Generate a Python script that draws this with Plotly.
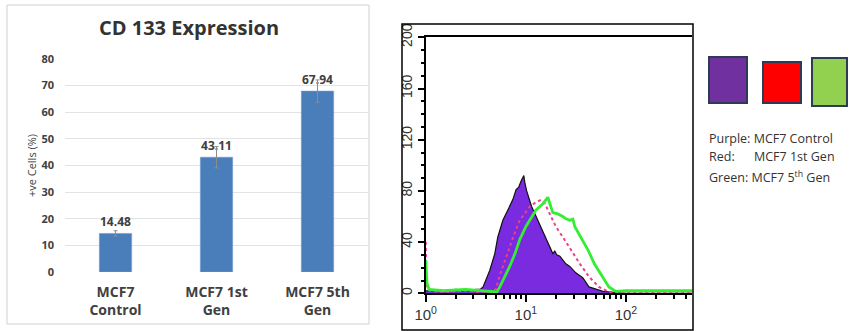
import plotly.graph_objects as go

# ---- Bar chart data ----
categories = ["MCF7<br>Control", "MCF7 1st<br>Gen", "MCF7 5th<br>Gen"]
positive_cells = [14.48, 43.11, 67.94]
errors = [1.0, 4.0, 4.2]
bar_labels = ["14.48", "43.11", "67.94"]

# ---- Flow cytometry histogram data (fluorescence, counts) ----
control_x = [1.0, 1.5, 2.0, 2.6, 3.2, 3.5, 3.74, 4.37, 4.9, 5.25, 5.9, 6.6, 7.4, 8.0, 8.5,
             9.0, 9.55, 9.8, 10.2, 11.4, 13.2, 15.8, 18.6, 19.5, 20.4, 21.9, 23.5, 25.1,
             27.5, 29.0, 31.6, 34.5, 37.2, 42.7, 50, 59, 70, 85, 100, 150, 250, 460]
control_y = [2, 2, 3, 2, 3, 3, 5, 18, 31, 44, 57, 65, 73, 81, 83,
             88, 92, 86, 80, 68, 57, 44, 31, 33, 30, 29, 26, 23,
             21, 19, 16, 14, 12, 5, 3, 1.5, 1, 0.5, 0, 0, 0, 0]

gen1_x = [1.0, 1.02, 1.1, 1.5, 2.5, 3.5, 4.5, 5.0, 5.5, 6.2, 6.9, 7.8, 8.7, 10, 11,
          12.6, 14.1, 15.5, 17.4, 20, 23.4, 28.2, 34.7, 42.7, 53.7, 67.6, 100, 200, 460]
gen1_y = [40, 6, 2, 1, 2, 1, 2, 3, 14, 26, 36, 48, 57, 64, 68,
          71, 73, 70, 62, 52, 44, 34, 23, 13, 5, 1, 1, 1, 1]

gen5_x = [1.0, 1.03, 1.08, 1.5, 2.5, 3.5, 4.4, 5.13, 5.5, 6.2, 6.9, 7.8, 8.7, 10, 11.4,
          12.6, 14.8, 16.6, 18.6, 20.9, 23.4, 25.5, 27.5, 29.5, 30.9, 35.5, 41.7, 48.4,
          58.9, 67.6, 79.4, 100, 150, 250, 460]
gen5_y = [26, 8, 3, 2, 3, 2, 1.5, 1, 5, 13, 21, 31, 42, 52, 60,
          65, 70, 75, 63, 62, 60, 58, 57, 58, 52, 44, 34, 23,
          13, 5, 1.5, 2, 2, 2, 2]

flow_ticks = [1, 10, 100]
flow_ticktext = ["10<sup>0</sup>", "10<sup>1</sup>", "10<sup>2</sup>"]
flow_minor = [2, 3, 4, 5, 6, 7, 8, 9, 20, 30, 40, 50, 60, 70, 80, 90, 200, 300, 400]

W, H = 851, 331
def px(x):
    return x / W
def py(y):
    return 1 - y / H

fig = go.Figure()

fig.add_trace(go.Bar(
    x=categories, y=positive_cells, width=0.32,
    marker=dict(color="#4a7ebb", line=dict(color="#6f9bd6", width=0.6)),
    error_y=dict(type="data", array=errors, color="#8c8c8c", thickness=1, width=2),
    text=bar_labels, textposition="outside", cliponaxis=False,
    textfont=dict(family="Open Sans", size=12, color="#404040", weight="bold"),
    xaxis="x", yaxis="y",
))

fig.add_trace(go.Scatter(
    x=control_x, y=control_y, mode="lines", fill="tozeroy",
    fillcolor="#7a2be0", line=dict(color="#111111", width=1.2),
    xaxis="x2", yaxis="y2",
))
fig.add_trace(go.Scatter(
    x=gen1_x, y=gen1_y, mode="lines",
    line=dict(color="#e8408a", width=2, dash="dot"),
    xaxis="x2", yaxis="y2",
))
fig.add_trace(go.Scatter(
    x=gen5_x, y=gen5_y, mode="lines",
    line=dict(color="#33ee33", width=2.8),
    xaxis="x2", yaxis="y2",
))

fig.update_layout(
    width=W, height=H,
    margin=dict(l=0, r=0, t=0, b=0, autoexpand=False),
    paper_bgcolor="white", plot_bgcolor="white",
    showlegend=False,
    xaxis=dict(
        domain=[px(65), px(368)], anchor="y", automargin=False,
        showgrid=False, showline=False, ticks="", zeroline=False,
        tickfont=dict(family="Open Sans", size=14, color="#404040", weight="bold"),
        ticklabelstandoff=10,
    ),
    yaxis=dict(
        domain=[py(272), py(59)], anchor="x", range=[0, 80], dtick=10, automargin=False,
        showgrid=True, gridcolor="#e3e3e3", gridwidth=1, zeroline=False, showline=False,
        tickfont=dict(family="Open Sans", size=11, color="#404040", weight="bold"),
        ticklabelstandoff=10,
        title=dict(text="+ve Cells (%)", standoff=2,
                   font=dict(family="Open Sans", size=11, color="#404040")),
    ),
    xaxis2=dict(
        type="log", domain=[px(425.7), px(692)], anchor="y2", range=[0, 2.66],
        automargin=False, showgrid=False, zeroline=False,
        showline=True, linecolor="black", linewidth=2, mirror=True,
        ticks="outside", ticklen=7, tickwidth=1.5, tickcolor="black",
        tickmode="array", tickvals=flow_ticks, ticktext=flow_ticktext,
        tickfont=dict(family="Liberation Sans", size=15, color="#333333"),
        minor=dict(tickvals=flow_minor, ticks="outside", ticklen=4,
                   tickwidth=1.5, tickcolor="black"),
    ),
    yaxis2=dict(
        domain=[py(293.3), py(37.3)], anchor="x2", range=[0, 200], automargin=False,
        showgrid=False, zeroline=False,
        showline=True, linecolor="black", linewidth=2,
        ticks="outside", ticklen=6, tickwidth=1.5, tickcolor="black",
        tick0=0, dtick=40, tickangle=-90,
        tickfont=dict(family="Liberation Sans", size=14, color="#333333"),
        minor=dict(tick0=0, dtick=10, ticks="outside", ticklen=3,
                   tickwidth=1.5, tickcolor="black"),
    ),
    shapes=[
        dict(type="rect", xref="paper", yref="paper",
             x0=px(7), x1=px(369), y0=py(324), y1=py(5),
             line=dict(color="#d0d0d0", width=1)),
        dict(type="rect", xref="paper", yref="paper",
             x0=px(402), x1=px(693), y0=py(330), y1=py(24),
             line=dict(color="black", width=1.5)),
        dict(type="rect", xref="paper", yref="paper",
             x0=px(709), x1=px(747), y0=py(103), y1=py(57),
             fillcolor="#7030a0", line=dict(color="#2e3b55", width=2)),
        dict(type="rect", xref="paper", yref="paper",
             x0=px(763), x1=px(801), y0=py(103), y1=py(62),
             fillcolor="#ff0000", line=dict(color="#2e3b55", width=2)),
        dict(type="rect", xref="paper", yref="paper",
             x0=px(812), x1=px(847), y0=py(106), y1=py(58),
             fillcolor="#92d050", line=dict(color="#2e3b55", width=2)),
    ],
    annotations=[
        dict(text="<b>CD 133 Expression</b>", xref="paper", yref="paper",
             x=px(189), y=py(28), xanchor="center", yanchor="middle", showarrow=False,
             font=dict(family="Open Sans", size=20, color="#333333")),
        dict(text="Purple: MCF7 Control", xref="paper", yref="paper",
             x=px(707), y=py(139), xanchor="left", yanchor="middle", showarrow=False,
             font=dict(family="Open Sans", size=12.5, color="#333333")),
        dict(text="Red:", xref="paper", yref="paper",
             x=px(707), y=py(157), xanchor="left", yanchor="middle", showarrow=False,
             font=dict(family="Open Sans", size=12.5, color="#333333")),
        dict(text="MCF7 1st Gen", xref="paper", yref="paper",
             x=px(752), y=py(157), xanchor="left", yanchor="middle", showarrow=False,
             font=dict(family="Open Sans", size=12.5, color="#333333")),
        dict(text="Green: MCF7 5<sup>th</sup> Gen", xref="paper", yref="paper",
             x=px(707), y=py(177), xanchor="left", yanchor="middle", showarrow=False,
             font=dict(family="Open Sans", size=12.5, color="#333333")),
    ],
)

fig.write_html("out.html")
